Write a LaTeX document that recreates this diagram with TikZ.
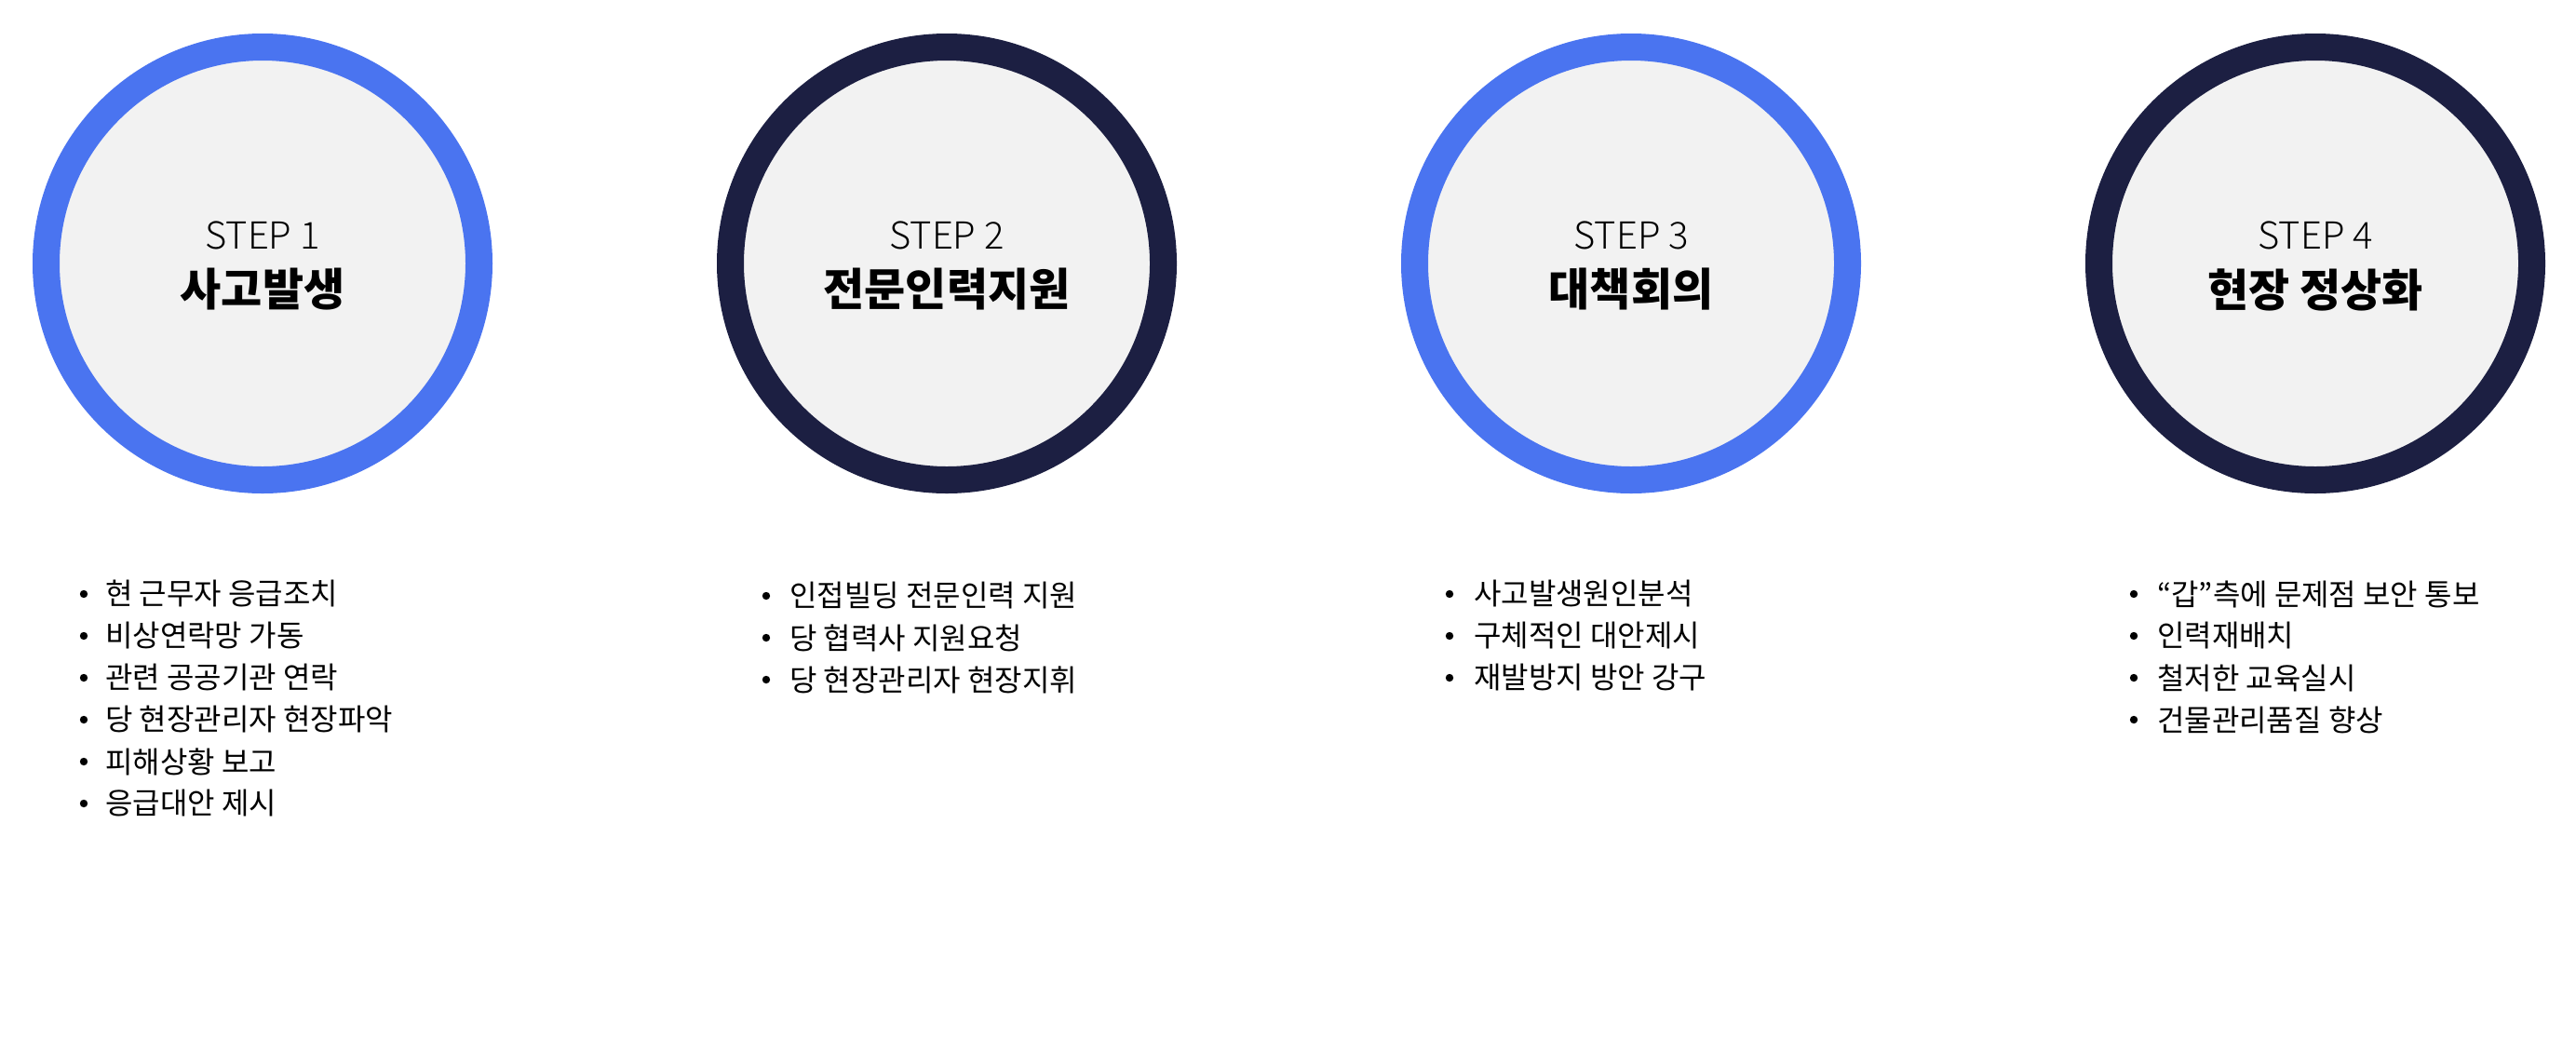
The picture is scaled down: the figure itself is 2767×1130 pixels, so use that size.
\documentclass[tikz,border=0pt]{standalone}
\usepackage{fontspec}
\setmainfont{Noto Sans CJK KR}
\newfontfamily\steplight{Noto Sans CJK KR Light}
\definecolor{ringblue}{HTML}{4A74F0}
\definecolor{ringnavy}{HTML}{1C1F42}
\definecolor{innerfill}{HTML}{F2F2F2}
\begin{document}
\begin{tikzpicture}[x=1pt,y=-1pt,
  ring/.style={circle,minimum size=465pt,line width=29pt,fill=innerfill,inner sep=0pt},
  steplabel/.style={font=\steplight\fontsize{40}{48}\selectfont,text=black,inner sep=0pt},
  titlelabel/.style={font=\fontsize{48}{58}\selectfont\bfseries,text=black,inner sep=0pt},
  item/.style={font=\fontsize{32}{38}\selectfont,anchor=west,inner sep=0pt,text=black}]
\useasboundingbox (0,0) rectangle (2767,1130);
\fill[white] (0,0) rectangle (2767,1130);
% circles
\node[ring,draw=ringblue] (c1) at (282,283) {};
\node[ring,draw=ringnavy] (c2) at (1017,283) {};
\node[ring,draw=ringblue] (c3) at (1752,283) {};
\node[ring,draw=ringnavy] (c4) at (2487,283) {};
% labels
\node[steplabel] (s1) at (282,253) {STEP 1};
\node[titlelabel] (t1) at (282,311) {사고발생};
\node[steplabel] (s2) at (1017,253) {STEP 2};
\node[titlelabel] (t2) at (1017,311) {전문인력지원};
\node[steplabel] (s3) at (1752,253) {STEP 3};
\node[titlelabel] (t3) at (1752,311) {대책회의};
\node[steplabel] (s4) at (2487,253) {STEP 4};
\node[titlelabel] (t4) at (2487,311) {현장 정상화};
% lists
\foreach \txt [count=\i] in {현 근무자 응급조치,비상연락망 가동,관련 공공기관 연락,당 현장관리자 현장파악,피해상황 보고,응급대안 제시}{
  \fill (90,{638+45*(\i-1)}) circle (4.2);
  \node[item] (a\i) at (113,{638+45*(\i-1)}) {\txt};
}
\foreach \txt [count=\i] in {인접빌딩 전문인력 지원,당 협력사 지원요청,당 현장관리자 현장지휘}{
  \fill (823,{640+45*(\i-1)}) circle (4.2);
  \node[item] (b\i) at (848,{640+45*(\i-1)}) {\txt};
}
\foreach \txt [count=\i] in {사고발생원인분석,구체적인 대안제시,재발방지 방안 강구}{
  \fill (1557,{638+45*(\i-1)}) circle (4.2);
  \node[item] (d\i) at (1583,{638+45*(\i-1)}) {\txt};
}
\foreach \txt [count=\i] in {“갑”측에 문제점 보안 통보,인력재배치,철저한 교육실시,건물관리품질 향상}{
  \fill (2292,{638+45*(\i-1)}) circle (4.2);
  \node[item] (e\i) at (2317,{638+45*(\i-1)}) {\txt};
}
\end{tikzpicture}
\end{document}
